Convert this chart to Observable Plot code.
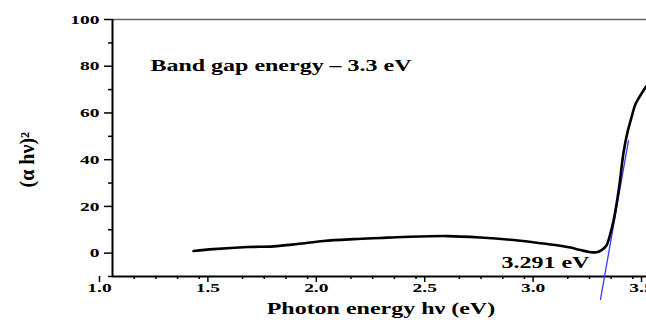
<!DOCTYPE html>
<html>
<head>
<meta charset="utf-8">
<script src="https://cdn.jsdelivr.net/npm/d3@7"></script>
<script src="https://cdn.jsdelivr.net/npm/@observablehq/plot@0.6"></script>
<style>
  html, body { margin: 0; padding: 0; background: #fff; overflow: hidden; width: 646px; height: 320px; }
  #chart svg { max-width: none !important; }
</style>
</head>
<body>
<div id="chart"></div>
<script>
// Measured curve (alpha h nu)^2 vs photon energy
const energy = [1.374, 1.466, 1.623, 1.743, 1.853, 1.973, 2.112, 2.236, 2.342, 2.545, 2.697, 2.850, 2.988, 3.066, 3.113, 3.159, 3.205, 3.233, 3.256, 3.279, 3.297, 3.311, 3.325, 3.339, 3.357, 3.376, 3.394, 3.412, 3.435, 3.459, 3.482];
const absorb = [0.9, 1.7, 2.6, 2.9, 3.9, 5.2, 6.0, 6.5, 6.9, 7.3, 6.7, 5.6, 4.1, 3.2, 2.4, 1.3, 0.4, 0.4, 1.3, 3.4, 8.6, 13.8, 21.1, 29.7, 43.0, 52.0, 58.1, 63.7, 67.5, 71.0, 74.0];
// Tauc linear fit line
const fitX = [3.251, 3.380];
const fitY = [-19.8, 48.2];
// Ticks
const xMajor = [1.0, 1.5, 2.0, 2.5, 3.0, 3.5];
const xMinor = [1.1, 1.2, 1.3, 1.4, 1.6, 1.7, 1.8, 1.9, 2.1, 2.2, 2.3, 2.4, 2.6, 2.7, 2.8, 2.9, 3.1, 3.2, 3.3, 3.4, 3.6];
const yMajor = [0, 20, 40, 60, 80, 100];
const yMinor = [-10, 10, 30, 50, 70, 90];
// Texts
const annotation = "Band gap energy \u2013 3.3 eV";
const gapLabel = "3.291 eV";
const xTitle = "Photon energy h\u03bd (eV)";
const yTitle = "(\u03b1 h\u03bd)\u00b2";

const curve = energy.map((e, i) => ({e, v: absorb[i]}));
const fit = fitX.map((e, i) => ({e, v: fitY[i]}));

const W = 690;
const chart = Plot.plot({
  width: W,
  height: 320,
  marginLeft: 112,
  marginRight: W - (112 + 2.6 * 216.8),
  marginTop: 19,
  marginBottom: 44,
  x: {domain: [1.0, 3.6]},
  y: {domain: [-10, 100]},
  style: {fontFamily: "'Liberation Serif', 'Times New Roman', serif", fontWeight: "bold", fontSize: "13px", color: "#000", background: "#fff", overflow: "visible", maxWidth: "none"},
  marks: [
    Plot.ruleY([100], {stroke: "#666", strokeWidth: 1.5}),
    Plot.axisY(yMajor, {tickSize: 8, tickPadding: 5, tickFormat: d => String(d), strokeWidth: 1.5, label: null, fontSize: 13}),
    Plot.axisY(yMinor, {tickSize: 4, text: null, strokeWidth: 1.5, label: null}),
    Plot.axisX(xMajor, {tickSize: 6, tickPadding: 0, tickFormat: d => d.toFixed(1), dx: -13, strokeWidth: 1.5, label: null, fontSize: 13}),
    Plot.axisX(xMinor, {tickSize: 3, text: null, strokeWidth: 1.5, label: null}),
    Plot.ruleX([1.0], {stroke: "#000", strokeWidth: 2}),
    Plot.ruleY([-10], {stroke: "#000", strokeWidth: 2}),
    Plot.line(fit, {x: "e", y: "v", stroke: "#3a3aff", strokeWidth: 1.3}),
    Plot.line(curve, {x: "e", y: "v", stroke: "#000", strokeWidth: 2.6, curve: "catmull-rom"}),
    Plot.text([annotation], {x: 1.175, y: 80, text: d => d, textAnchor: "start", fontSize: 16}),
    Plot.text([gapLabel], {x: 2.997, y: -4.3, text: d => d, textAnchor: "middle", fontSize: 16}),
    Plot.text([xTitle], {x: 2.238, y: -24, text: d => d, textAnchor: "middle", fontSize: 16}),
    Plot.text([yTitle], {x: 1.0, dx: -85, y: 40, text: d => d, textAnchor: "middle", rotate: -90, fontSize: 20})
  ]
});

// Horizontal stretch of the lettering, as in the reference image
d3.select(chart).selectAll("text").each(function() {
  const t = this.getAttribute("transform") || "";
  if (t.includes("rotate")) return;
  const ax = parseFloat(this.getAttribute("x")) || 0;
  const ay = parseFloat(this.getAttribute("y")) || 0;
  this.setAttribute("transform", `${t} translate(${ax},${ay}) scale(1.5,1) translate(${-ax},${-ay})`.trim());
});

document.getElementById("chart").appendChild(chart);
</script>
</body>
</html>
